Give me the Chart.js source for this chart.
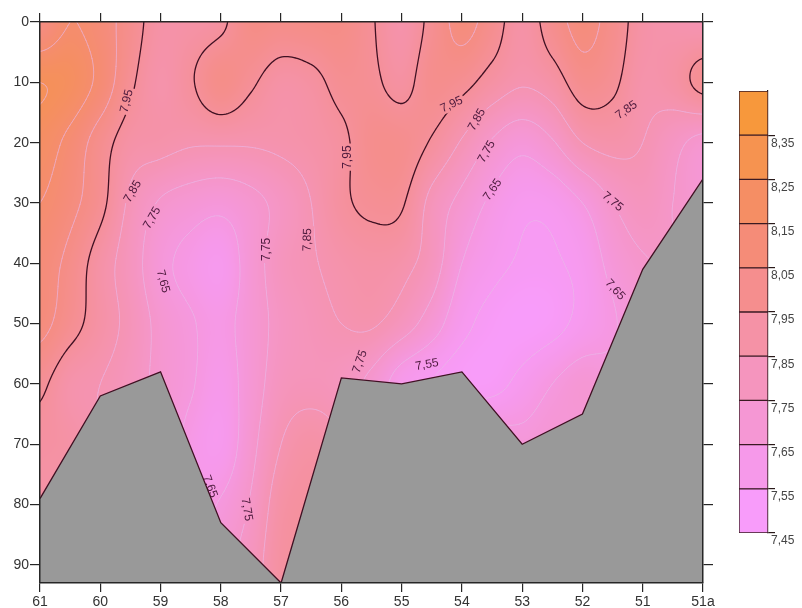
<!DOCTYPE html>
<html>
<head>
<meta charset="utf-8">
<script src="https://cdn.jsdelivr.net/npm/chart.js@4.4.1/dist/chart.umd.min.js"></script>
<style>
body { margin: 0; background: #fff; }
#wrap { position: relative; width: 802px; height: 608px; }
#section { position: absolute; left: 0; top: 0; }
#legend { position: absolute; left: 720px; top: 0; }
</style>
</head>
<body>
<div id="wrap">
  <canvas id="section" width="720" height="608"></canvas>
  <canvas id="legend" width="82" height="608"></canvas>
</div>
<script>
// stations along the section (x index 0..11)
var stations = ["61", "60", "59", "58", "57", "56", "55", "54", "53", "52", "51", "51a"];
var depthTicks = [0, 10, 20, 30, 40, 50, 60, 70, 80, 90];
var depthMax = 93;
// bottom depth under each station
var seabed = [79, 62, 58, 83, 93, 59, 60, 58, 70, 65, 41, 26];

// pH, every half station (23 columns), one row per 10 m
var colStep = 0.5;
var depthStep = 10;
var ph0  = [8.05, 8.15, 8.10, 8.00, 7.90, 7.90, 7.93, 8.03, 8.02, 8.03, 8.03, 7.96, 7.88, 7.98, 8.08, 8.00, 7.90, 8.00, 8.08, 8.01, 7.90, 7.87, 7.85];
var ph10 = [8.25, 8.22, 8.12, 7.97, 7.88, 7.94, 8.02, 7.965, 7.90, 7.92, 7.98, 7.97, 7.92, 8.00, 7.98, 7.91, 7.86, 7.90, 8.00, 7.97, 7.88, 7.90, 7.98];
var ph20 = [8.20, 8.12, 8.00, 7.90, 7.88, 7.86, 7.86, 7.86, 7.87, 7.89, 7.93, 8.00, 8.00, 7.94, 7.84, 7.74, 7.68, 7.74, 7.85, 7.88, 7.85, 7.78, 7.72];
var ph30 = [8.15, 8.08, 7.98, 7.83, 7.74, 7.70, 7.68, 7.72, 7.78, 7.85, 7.93, 7.97, 7.96, 7.82, 7.72, 7.63, 7.57, 7.58, 7.65, 7.75, 7.80, 7.75, 7.70];
var ph40 = [8.10, 8.02, 7.90, 7.80, 7.68, 7.62, 7.58, 7.70, 7.80, 7.84, 7.88, 7.90, 7.88, 7.80, 7.65, 7.58, 7.54, 7.54, 7.58, 7.68, 7.74, 7.75, 7.70];
var ph50 = [8.08, 7.99, 7.90, 7.82, 7.72, 7.66, 7.62, 7.70, 7.78, 7.82, 7.85, 7.86, 7.80, 7.70, 7.58, 7.52, 7.50, 7.52, 7.58, 7.64, 7.70, 7.70, 7.70];
var ph60 = [7.97, 7.88, 7.85, 7.80, 7.72, 7.66, 7.60, 7.70, 7.80, 7.82, 7.80, 7.72, 7.60, 7.55, 7.52, 7.52, 7.58, 7.65, 7.70, 7.68, 7.70, 7.70, 7.70];
var ph70 = [7.92, 7.90, 7.85, 7.80, 7.72, 7.62, 7.58, 7.72, 7.85, 7.90, 7.85, 7.70, 7.70, 7.70, 7.70, 7.70, 7.68, 7.70, 7.68, 7.70, 7.70, 7.70, 7.70];
var ph80 = [7.90, 7.88, 7.85, 7.80, 7.72, 7.62, 7.66, 7.76, 7.90, 7.93, 7.90, 7.70, 7.70, 7.70, 7.70, 7.70, 7.70, 7.70, 7.70, 7.70, 7.70, 7.70, 7.70];
var ph90 = [7.88, 7.86, 7.85, 7.80, 7.75, 7.70, 7.72, 7.80, 7.92, 7.93, 7.90, 7.70, 7.70, 7.70, 7.70, 7.70, 7.70, 7.70, 7.70, 7.70, 7.70, 7.70, 7.70];
var phRows = [ph0, ph10, ph20, ph30, ph40, ph50, ph60, ph70, ph80, ph90];

// colour scale (bin edges and one colour per bin)
var legendLevels = [7.45, 7.55, 7.65, 7.75, 7.85, 7.95, 8.05, 8.15, 8.25, 8.35, 8.45];
var legendTicks = [7.45, 7.55, 7.65, 7.75, 7.85, 7.95, 8.05, 8.15, 8.25, 8.35];
var binColors = [
    [248, 156, 250], [246, 153, 234], [245, 151, 212], [245, 149, 190], [245, 146, 166],
    [245, 142, 142], [245, 140, 120], [245, 142, 100], [246, 147, 80], [247, 152, 60]
];
var mainLevel = 7.95;
var faintLevels = [7.55, 7.65, 7.75, 7.85, 8.05, 8.15, 8.25];

// contour labels: station position, depth, text, angle
var contourLabels = [
    [1.44, 13.1, "7,95", -76], [1.54, 28.1, "7,85", -60], [1.86, 32.5, "7,75", -60],
    [2.04, 43.0, "7,65", 75], [3.76, 37.7, "7,75", -90], [4.44, 36.1, "7,85", -88],
    [5.11, 22.4, "7,95", -90], [6.83, 13.7, "7,95", -25], [7.25, 16.2, "7,85", -60],
    [7.41, 21.5, "7,75", -60], [7.51, 27.8, "7,65", -55], [9.73, 14.6, "7,85", -35],
    [9.50, 29.8, "7,75", 40], [9.54, 44.4, "7,65", 48], [6.42, 56.8, "7,55", -10],
    [5.31, 56.3, "7,75", -70], [2.82, 77.0, "7,65", 70], [3.43, 80.8, "7,75", 80]
];

function cr(p0, p1, p2, p3, t) {
    return p1 + 0.5 * t * (p2 - p0 + t * (2 * p0 - 5 * p1 + 4 * p2 - p3 + t * (3 * (p1 - p2) + p3 - p0)));
}
function cell(r, c) {
    r = Math.max(0, Math.min(phRows.length - 1, r));
    c = Math.max(0, Math.min(phRows[0].length - 1, c));
    return phRows[r][c];
}
function phAt(s, d) {
    var fx = s / colStep, fy = d / depthStep;
    var c = Math.floor(fx), r = Math.floor(fy);
    var tx = fx - c, ty = fy - r;
    var col = [];
    for (var k = -1; k <= 2; k++) {
        col.push(cr(cell(r + k, c - 1), cell(r + k, c), cell(r + k, c + 1), cell(r + k, c + 2), tx));
    }
    return cr(col[0], col[1], col[2], col[3], ty);
}
function phColor(v) {
    var t = (v - 7.5) / 0.1;
    t = Math.max(0, Math.min(9, t));
    var k = Math.min(8, Math.floor(t)), f = t - k;
    var a = binColors[k], b = binColors[k + 1];
    return [a[0] + (b[0] - a[0]) * f, a[1] + (b[1] - a[1]) * f, a[2] + (b[2] - a[2]) * f];
}
function rgb(c) { return "rgb(" + c[0] + "," + c[1] + "," + c[2] + ")"; }

function addContour(ctx, V, nx, ny, x0, y0, step, level) {
    for (var j = 0; j < ny - 1; j++) {
        for (var i = 0; i < nx - 1; i++) {
            var a = V[j][i], b = V[j][i + 1], c = V[j + 1][i + 1], d = V[j + 1][i];
            var pts = [];
            if ((a >= level) !== (b >= level)) pts.push([i + (level - a) / (b - a), j]);
            if ((b >= level) !== (c >= level)) pts.push([i + 1, j + (level - b) / (c - b)]);
            if ((d >= level) !== (c >= level)) pts.push([i + (level - d) / (c - d), j + 1]);
            if ((a >= level) !== (d >= level)) pts.push([i, j + (level - a) / (d - a)]);
            for (var p = 0; p + 1 < pts.length; p += 2) {
                ctx.moveTo(x0 + pts[p][0] * step, y0 + pts[p][1] * step);
                ctx.lineTo(x0 + pts[p + 1][0] * step, y0 + pts[p + 1][1] * step);
            }
        }
    }
}

var labelFont = '12px "Liberation Sans", Arial, sans-serif';

var fieldPlugin = {
    id: "field",
    beforeDatasetsDraw: function(chart) {
        var ctx = chart.ctx, area = chart.chartArea;
        var xs = chart.scales.x, ys = chart.scales.y;
        var w = Math.round(area.right - area.left), h = Math.round(area.bottom - area.top);
        if (!chart.$field) {
            var off = document.createElement("canvas");
            off.width = w; off.height = h;
            var octx = off.getContext("2d");
            var img = octx.createImageData(w, h);
            for (var py = 0; py < h; py++) {
                var d = ys.getValueForPixel(area.top + py + 0.5);
                for (var px = 0; px < w; px++) {
                    var s = xs.getValueForPixel(area.left + px + 0.5);
                    var c = phColor(phAt(s, d));
                    var k = (py * w + px) * 4;
                    img.data[k] = c[0]; img.data[k + 1] = c[1]; img.data[k + 2] = c[2]; img.data[k + 3] = 255;
                }
            }
            octx.putImageData(img, 0, 0);
            chart.$field = off;
        }
        ctx.save();
        ctx.drawImage(chart.$field, area.left, area.top);

        // sample grid for the contour lines
        var step = 2;
        var nx = Math.ceil(w / step) + 1, ny = Math.ceil(h / step) + 1;
        var V = [];
        for (var j = 0; j < ny; j++) {
            var row = [];
            var dd = ys.getValueForPixel(area.top + j * step);
            for (var i = 0; i < nx; i++) {
                row.push(phAt(xs.getValueForPixel(area.left + i * step), dd));
            }
            V.push(row);
        }

        // leave gaps where the labels sit
        ctx.font = labelFont;
        ctx.beginPath();
        ctx.rect(area.left, area.top, w, h);
        contourLabels.forEach(function(l) {
            var cx = xs.getPixelForValue(l[0]), cy = ys.getPixelForValue(l[1]);
            var hw = ctx.measureText(l[2]).width / 2 + 2, hh = 6;
            var an = l[3] * Math.PI / 180, co = Math.cos(an), si = Math.sin(an);
            var pts = [[-hw, -hh], [hw, -hh], [hw, hh], [-hw, hh]];
            pts.forEach(function(p, n) {
                var X = cx + p[0] * co - p[1] * si, Y = cy + p[0] * si + p[1] * co;
                if (n === 0) ctx.moveTo(X, Y); else ctx.lineTo(X, Y);
            });
            ctx.closePath();
        });
        ctx.clip("evenodd");

        ctx.lineCap = "round";
        ctx.beginPath();
        faintLevels.forEach(function(lv) { addContour(ctx, V, nx, ny, area.left, area.top, step, lv); });
        ctx.strokeStyle = "rgba(236,188,236,0.5)";
        ctx.lineWidth = 1;
        ctx.stroke();

        ctx.beginPath();
        addContour(ctx, V, nx, ny, area.left, area.top, step, mainLevel);
        ctx.strokeStyle = "#3f1022";
        ctx.lineWidth = 1.3;
        ctx.stroke();
        ctx.restore();

        ctx.save();
        ctx.font = labelFont;
        ctx.fillStyle = "#4d1a3d";
        ctx.textAlign = "center";
        ctx.textBaseline = "middle";
        contourLabels.forEach(function(l) {
            ctx.save();
            ctx.translate(xs.getPixelForValue(l[0]), ys.getPixelForValue(l[1]));
            ctx.rotate(l[3] * Math.PI / 180);
            ctx.fillText(l[2], 0, 0);
            ctx.restore();
        });
        ctx.restore();
    }
};

var axisColor = "#262626";
var tickFont = { family: '"Liberation Sans", Arial, sans-serif', size: 14 };

function xAxis(pos, show, height) {
    return {
        type: "linear", position: pos, min: 0, max: stations.length - 1,
        afterBuildTicks: function(scale) { scale.ticks = stations.map(function(s, i) { return { value: i }; }); },
        afterFit: function(scale) { scale.height = height; },
        ticks: { display: show, font: tickFont, color: "#333", padding: 2, maxRotation: 0,
                 callback: function(v) { return stations[v]; } },
        grid: { drawOnChartArea: false, drawTicks: true, tickLength: 9, color: axisColor, lineWidth: 1.2 },
        border: { display: true, color: axisColor, width: 1.5, z: 1 }
    };
}
function yAxis(pos, show, width) {
    return {
        type: "linear", position: pos, min: 0, max: depthMax, reverse: true,
        afterBuildTicks: function(scale) { scale.ticks = depthTicks.map(function(v) { return { value: v }; }); },
        afterFit: function(scale) { scale.width = width; },
        ticks: { display: show, font: tickFont, color: "#333", padding: 1 },
        grid: { drawOnChartArea: false, drawTicks: true, tickLength: 10, color: axisColor, lineWidth: 1.2 },
        border: { display: true, color: axisColor, width: 1.5, z: 1 }
    };
}

var bottomData = seabed.map(function(d, i) { return { x: i, y: d }; });

new Chart(document.getElementById("section"), {
    type: "line",
    data: {
        datasets: [{
            label: "seabed",
            data: bottomData,
            xAxisID: "x",
            yAxisID: "y",
            borderColor: "#3f1022",
            borderWidth: 1.3,
            backgroundColor: "#999999",
            fill: { value: depthMax },
            pointRadius: 0,
            tension: 0
        }]
    },
    options: {
        responsive: false,
        animation: false,
        layout: { padding: 0 },
        plugins: { legend: { display: false }, tooltip: { enabled: false } },
        scales: {
            x: xAxis("bottom", true, 25),
            x2: xAxis("top", false, 22),
            y: yAxis("left", true, 40),
            y2: yAxis("right", false, 17)
        }
    },
    plugins: [fieldPlugin]
});

// colour bar
var barSets = [];
for (var b = 0; b < binColors.length; b++) {
    barSets.push({
        data: [[legendLevels[b], legendLevels[b + 1]]],
        backgroundColor: rgb(binColors[b]),
        borderColor: "#3a1a22",
        borderWidth: 1,
        borderSkipped: false,
        grouped: false,
        barPercentage: 1,
        categoryPercentage: 1
    });
}

new Chart(document.getElementById("legend"), {
    type: "bar",
    data: { labels: ["pH"], datasets: barSets },
    options: {
        responsive: false,
        animation: false,
        layout: { padding: { left: 19, top: 91, bottom: 75, right: 0 } },
        plugins: { legend: { display: false }, tooltip: { enabled: false } },
        scales: {
            x: { display: false },
            y: {
                position: "right", min: legendLevels[0], max: legendLevels[legendLevels.length - 1],
                afterBuildTicks: function(scale) { scale.ticks = legendTicks.map(function(v) { return { value: v }; }); },
                afterFit: function(scale) { scale.width = 34; },
                ticks: { font: { family: '"Liberation Sans", Arial, sans-serif', size: 12 }, color: "#444",
                         padding: -4, labelOffset: 8,
                         callback: function(v) { return v.toFixed(2).replace(".", ","); } },
                grid: { drawOnChartArea: false, drawTicks: true, tickLength: 7, color: "#2a1a1a", lineWidth: 1.2 },
                border: { display: true, color: "#2a1a1a", width: 1.2 }
            }
        }
    }
});
</script>
</body>
</html>
